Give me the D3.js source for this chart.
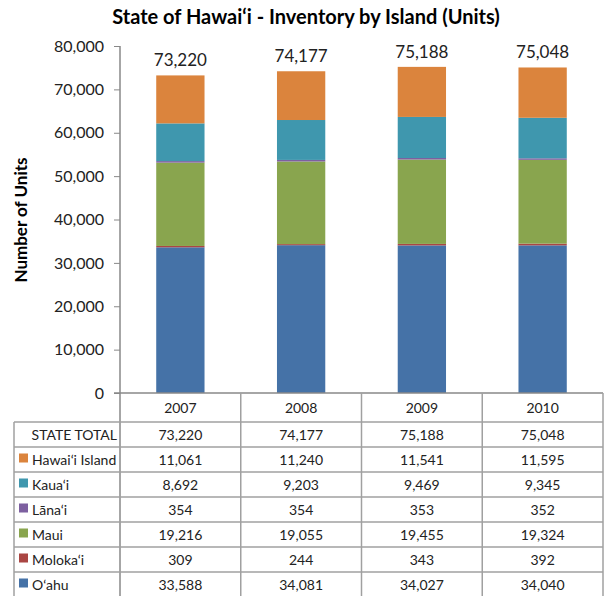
<!DOCTYPE html>
<html>
<head>
<meta charset="utf-8">
<script src="https://cdn.jsdelivr.net/npm/d3@7/dist/d3.min.js"></script>
<style>
  body { margin: 0; background: #fff; }
  svg { display: block; font-family: Lato, "Open Sans", sans-serif; }
</style>
</head>
<body>
<svg id="chart" width="606" height="596"></svg>
<script>
// data
var years = ["2007", "2008", "2009", "2010"];
var islands = ["O\u2018ahu", "Moloka\u2018i", "Maui", "L\u0101na\u2018i", "Kaua\u2018i", "Hawai\u2018i Island"];
var oahu    = [33588, 34081, 34027, 34040];
var molokai = [309, 244, 343, 392];
var maui    = [19216, 19055, 19455, 19324];
var lanai   = [354, 354, 353, 352];
var kauai   = [8692, 9203, 9469, 9345];
var hawaii  = [11061, 11240, 11541, 11595];
var totals  = [73220, 74177, 75188, 75048];
var yTicks  = [0, 10000, 20000, 30000, 40000, 50000, 60000, 70000, 80000];

var series = [oahu, molokai, maui, lanai, kauai, hawaii];
var colors = ["#4572A7", "#AA4643", "#89A54E", "#7D60A0", "#3F97AE", "#DB843D"];

var svg = d3.select("#chart");
var fmt = d3.format(",");

var x = d3.scaleBand().domain(years).range([120, 603]).paddingInner(0).paddingOuter(0);
var y = d3.scaleLinear().domain([0, 80000]).range([393, 46]);

// title
svg.append("text")
    .attr("x", 306).attr("y", 24)
    .attr("text-anchor", "middle")
    .style("font-size", "20px").style("font-weight", "bold")
    .text("State of Hawai\u2018i - Inventory by Island (Units)");

// y label
svg.append("text")
    .attr("transform", "translate(27,220) rotate(-90)")
    .attr("text-anchor", "middle")
    .style("font-size", "17px").style("font-weight", "bold")
    .text("Number of Units");

// stacked bars
var rows = years.map(function (yr, i) {
    var r = { year: yr };
    islands.forEach(function (k, j) { r[k] = series[j][i]; });
    return r;
});
var stacked = d3.stack().keys(islands)(rows);
var bw = x.bandwidth() * 0.4;

svg.append("g").selectAll("g")
    .data(stacked)
    .join("g")
    .attr("fill", function (d, i) { return colors[i]; })
    .selectAll("rect")
    .data(function (d) { return d; })
    .join("rect")
    .attr("x", function (d) { return x(d.data.year) + (x.bandwidth() - bw) / 2; })
    .attr("width", bw)
    .attr("y", function (d) { return y(d[1]); })
    .attr("height", function (d) { return y(d[0]) - y(d[1]); });

// totals above bars
svg.append("g").selectAll("text")
    .data(years)
    .join("text")
    .attr("x", function (d) { return x(d) + x.bandwidth() / 2; })
    .attr("y", function (d, i) { return y(totals[i]) - 9; })
    .attr("text-anchor", "middle")
    .style("font-size", "17px").attr("fill", "#222")
    .text(function (d, i) { return fmt(totals[i]); });

// y axis
var yAxis = d3.axisLeft(y).tickValues(yTicks).tickFormat(fmt).tickSize(6).tickPadding(10);
var ga = svg.append("g").attr("transform", "translate(120,0)").call(yAxis);
ga.select(".domain").remove();
ga.selectAll("line").attr("stroke", "#888");
ga.selectAll("text").style("font-size", "16px").attr("fill", "#222")
    .style("font-family", "Lato, 'Open Sans', sans-serif");

var grid = "#a0a0a0";
// axis vertical line continuing into table
svg.append("line").attr("x1", 120).attr("x2", 120).attr("y1", 46).attr("y2", 596)
    .attr("stroke", "#888").attr("stroke-width", 1.5);
// baseline
svg.append("line").attr("x1", 114).attr("x2", 603).attr("y1", y(0)).attr("y2", y(0))
    .attr("stroke", "#888").attr("stroke-width", 1.5);

// data table
var rowH = 25, tTop = 422, tLeft = 14, tRight = 603;
var tableRows = [{ name: "STATE TOTAL", vals: totals, color: null }];
for (var j = islands.length - 1; j >= 0; j--) {
    tableRows.push({ name: islands[j], vals: series[j], color: colors[j] });
}

// year header
svg.append("g").selectAll("text")
    .data(years)
    .join("text")
    .attr("x", function (d) { return x(d) + x.bandwidth() / 2; })
    .attr("y", 413)
    .attr("text-anchor", "middle")
    .style("font-size", "14px").attr("fill", "#222")
    .text(function (d) { return d; });

var tg = svg.append("g");
// vertical lines
years.forEach(function (yr) {
    tg.append("line")
        .attr("x1", x(yr) + x.bandwidth()).attr("x2", x(yr) + x.bandwidth())
        .attr("y1", y(0)).attr("y2", 596)
        .attr("stroke", grid).attr("stroke-width", 1.5);
});
tg.append("line").attr("x1", tLeft).attr("x2", tLeft)
    .attr("y1", tTop).attr("y2", 596).attr("stroke", grid).attr("stroke-width", 1.5);
// horizontal lines
d3.range(tableRows.length + 1).forEach(function (r) {
    tg.append("line")
        .attr("x1", tLeft).attr("x2", tRight)
        .attr("y1", tTop + r * rowH).attr("y2", tTop + r * rowH)
        .attr("stroke", grid).attr("stroke-width", 1.5);
});

tableRows.forEach(function (row, r) {
    var cy = tTop + r * rowH + rowH / 2 + 5;
    if (row.color) {
        tg.append("rect").attr("x", 19).attr("y", cy - 11).attr("width", 9).attr("height", 9)
            .attr("fill", row.color);
        tg.append("text").attr("x", 32).attr("y", cy)
            .style("font-size", "14px").attr("fill", "#222").text(row.name);
    } else {
        tg.append("text").attr("x", 117).attr("y", cy).attr("text-anchor", "end")
            .style("font-size", "14px").attr("fill", "#222").text(row.name);
    }
    row.vals.forEach(function (v, i) {
        tg.append("text")
            .attr("x", x(years[i]) + x.bandwidth() / 2).attr("y", cy)
            .attr("text-anchor", "middle")
            .style("font-size", "14px").attr("fill", "#222")
            .text(fmt(v));
    });
});
</script>
</body>
</html>
